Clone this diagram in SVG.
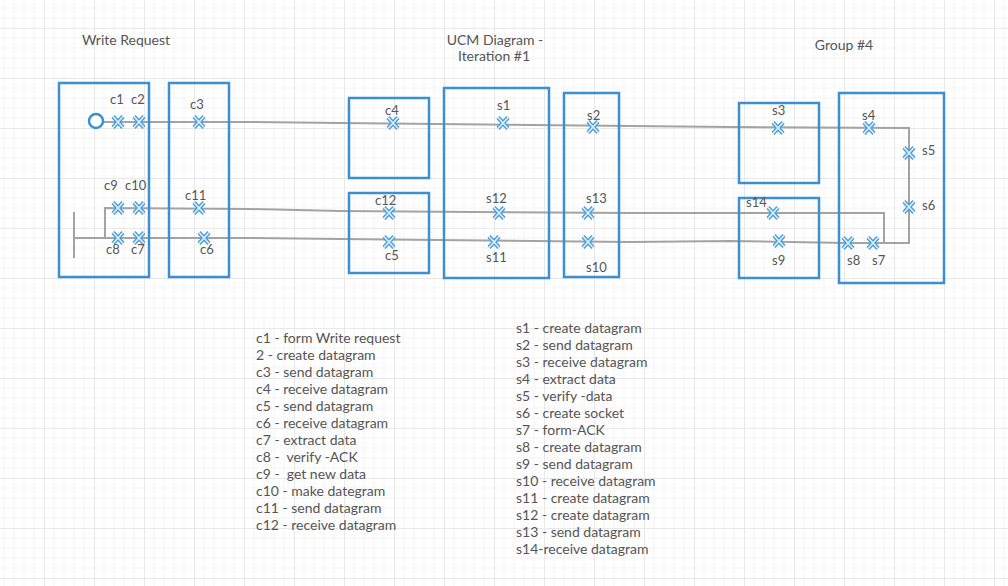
<svg xmlns="http://www.w3.org/2000/svg" width="1008" height="586" viewBox="0 0 1008 586">
<defs>
<pattern id="grid" patternUnits="userSpaceOnUse" x="44" y="28" width="50" height="50">
<path d="M10 0V50M20 0V50M30 0V50M40 0V50M0 10H50M0 20H50M0 30H50M0 40H50" stroke="#f3f3f3" stroke-width="1" fill="none"/>
<path d="M0.5 0V50M0 0.5H50" stroke="#e8e8e8" stroke-width="1" fill="none"/>
</pattern>
<g id="xm">
<path d="M-5 -5.5L5 5.5M5 -5.5L-5 5.5" stroke="#4a9ad6" stroke-width="4.2"/>
<path d="M-5 -5.5L5 5.5M5 -5.5L-5 5.5" stroke="#d4eefb" stroke-width="1.8"/>
</g>
</defs>
<style>
.box{fill:none;stroke:#3b8fd2;stroke-width:2.5}
.path{fill:none;stroke:#a3a3a3;stroke-width:2;stroke-linejoin:miter}
text{font-family:Lato,"Open Sans","Liberation Sans",sans-serif;fill:#555;font-size:13px}
.title{font-size:14px;text-anchor:middle}
.leg text{font-size:14px}
</style>
<rect width="1008" height="586" fill="#fff"/>
<rect width="1008" height="586" fill="url(#grid)"/>

<g id="titles">
<text class="title" x="126" y="45">Write Request</text>
<text class="title" x="495" y="45">UCM Diagram -</text>
<text class="title" x="494" y="61">Iteration #1</text>
<text class="title" x="844" y="50">Group #4</text>
</g>

<g id="connectors">
<polyline class="path" points="103,122 250,122 340,123 630,126 730,127 909,128 909,243 848,243 730,241 630,242 340,239 250,238 75,238"/>
<polyline class="path" points="105,238 105,208 250,209 340,211 630,213 884,213 884,243"/>
<line class="path" x1="74" y1="212" x2="74" y2="258"/>
</g>

<g id="node-client1">
<rect class="box" x="59" y="83" width="90" height="194"/>
<circle cx="96" cy="121" r="7" fill="#fff" stroke="#3b8fd2" stroke-width="2.5"/>
<use href="#xm" x="118" y="122"/><use href="#xm" x="139" y="122"/>
<use href="#xm" x="118" y="208"/><use href="#xm" x="139" y="208"/>
<use href="#xm" x="118" y="238"/><use href="#xm" x="139" y="238"/>
<text x="110" y="104">c1</text><text x="131" y="104">c2</text>
<text x="104" y="190">c9</text><text x="125" y="190">c10</text>
<text x="106" y="254">c8</text><text x="131" y="254">c7</text>
</g>

<g id="node-client2">
<rect class="box" x="169" y="83" width="60" height="194"/>
<use href="#xm" x="199" y="122"/><use href="#xm" x="199" y="208"/><use href="#xm" x="204" y="238"/>
<text x="190" y="109">c3</text>
<text x="185" y="200">c11</text>
<text x="200" y="254">c6</text>
</g>

<g id="node-c4">
<rect class="box" x="349" y="98" width="80" height="80"/>
<use href="#xm" x="393" y="123"/>
<text x="385" y="115">c4</text>
</g>

<g id="node-c12">
<rect class="box" x="349" y="193" width="80" height="80"/>
<use href="#xm" x="389" y="213"/><use href="#xm" x="389" y="242"/>
<text x="375" y="205">c12</text>
<text x="385" y="260">c5</text>
</g>

<g id="node-s1">
<rect class="box" x="444" y="88" width="105" height="190"/>
<use href="#xm" x="503" y="123"/><use href="#xm" x="499" y="213"/><use href="#xm" x="494" y="242"/>
<text x="497" y="110">s1</text>
<text x="486" y="203">s12</text>
<text x="486" y="262">s11</text>
</g>

<g id="node-s2">
<rect class="box" x="564" y="93" width="55" height="184"/>
<use href="#xm" x="593" y="127"/><use href="#xm" x="588" y="213"/><use href="#xm" x="588" y="242"/>
<text x="587" y="120">s2</text>
<text x="586" y="203">s13</text>
<text x="586" y="272">s10</text>
</g>

<g id="node-s3">
<rect class="box" x="739" y="103" width="80" height="80"/>
<use href="#xm" x="778" y="128"/>
<text x="772" y="115">s3</text>
</g>

<g id="node-s14">
<rect class="box" x="739" y="198" width="80" height="80"/>
<use href="#xm" x="773" y="213"/><use href="#xm" x="779" y="241"/>
<text x="746" y="207">s14</text>
<text x="772" y="265">s9</text>
</g>

<g id="node-s4">
<rect class="box" x="839" y="93" width="105" height="190"/>
<use href="#xm" x="869" y="128"/><use href="#xm" x="909" y="153"/><use href="#xm" x="909" y="207"/>
<use href="#xm" x="848" y="243"/><use href="#xm" x="873" y="243"/>
<text x="862" y="120">s4</text>
<text x="922" y="155">s5</text>
<text x="922" y="210">s6</text>
<text x="847" y="265">s8</text>
<text x="872" y="265">s7</text>
</g>

<g id="legend-client" class="leg">
<text x="256" y="343">c1 - form Write request</text>
<text x="256" y="360">2 - create datagram</text>
<text x="256" y="377">c3 - send datagram</text>
<text x="256" y="394">c4 - receive datagram</text>
<text x="256" y="411">c5 - send datagram</text>
<text x="256" y="428">c6 - receive datagram</text>
<text x="256" y="445">c7 - extract data</text>
<text x="256" y="462" xml:space="preserve">c8 -  verify -ACK</text>
<text x="256" y="479" xml:space="preserve">c9 -  get new data</text>
<text x="256" y="496">c10 - make dategram</text>
<text x="256" y="513">c11 - send datagram</text>
<text x="256" y="530">c12 - receive datagram</text>
</g>

<g id="legend-server" class="leg">
<text x="516" y="333">s1 - create datagram</text>
<text x="516" y="350">s2 - send datagram</text>
<text x="516" y="367">s3 - receive datagram</text>
<text x="516" y="384">s4 - extract data</text>
<text x="516" y="401">s5 - verify -data</text>
<text x="516" y="418">s6 - create socket</text>
<text x="516" y="435">s7 - form-ACK</text>
<text x="516" y="452">s8 - create datagram</text>
<text x="516" y="469">s9 - send datagram</text>
<text x="516" y="486">s10 - receive datagram</text>
<text x="516" y="503">s11 - create datagram</text>
<text x="516" y="520">s12 - create datagram</text>
<text x="516" y="537">s13 - send datagram</text>
<text x="516" y="554">s14-receive datagram</text>
</g>
</svg>
